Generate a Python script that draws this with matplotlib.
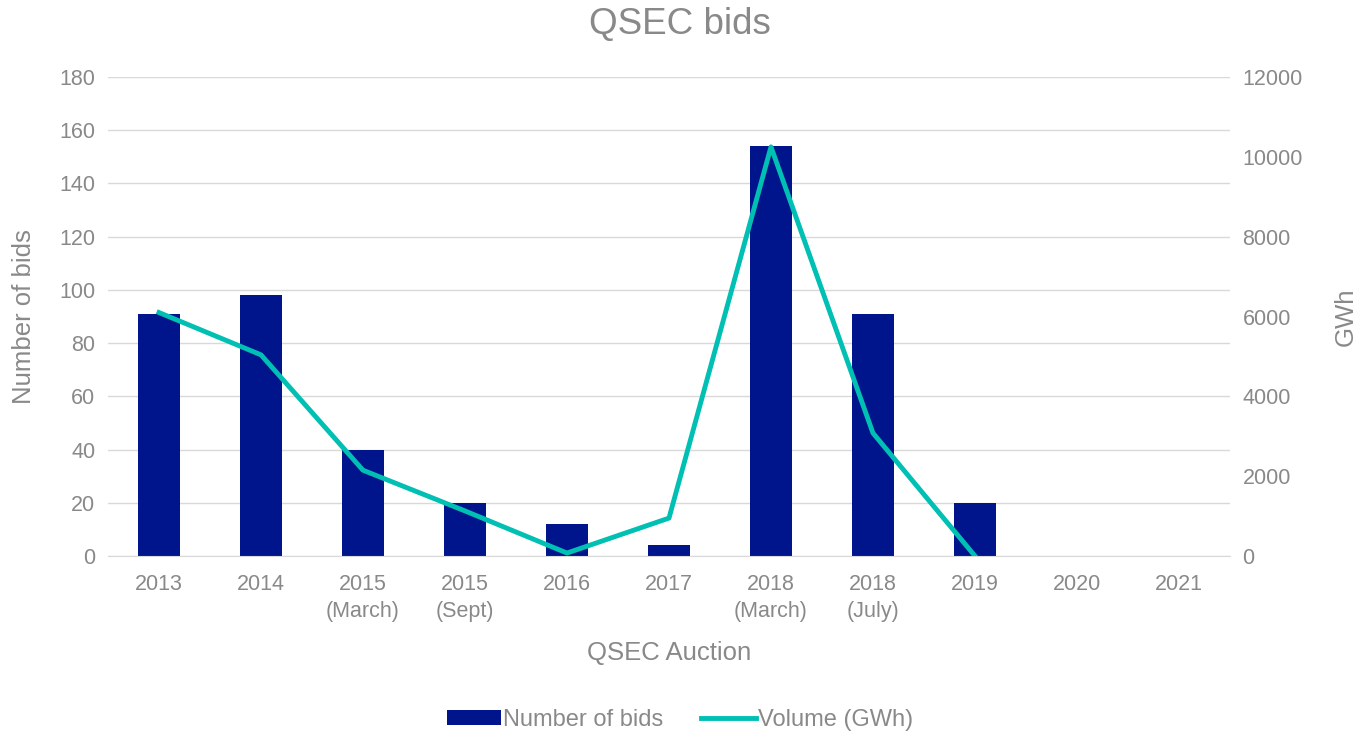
import matplotlib
matplotlib.use("Agg")
import matplotlib.pyplot as plt
import numpy as np

plt.rcParams['font.family'] = ['Liberation Sans', 'DejaVu Sans']

auctions = ["2013", "2014", "2015\n(March)", "2015\n(Sept)", "2016", "2017",
            "2018\n(March)", "2018\n(July)", "2019", "2020", "2021"]
num_bids = [91, 98, 40, 20, 12, 4, 154, 91, 20, 0, 0]
volume_gwh = [6100, 5040, 2150, 1130, 75, 950, 10250, 3080, 0]

grey = "#898989"
navy = "#00148C"
teal = "#00BFB3"

fig = plt.figure(figsize=(13.6, 7.32), dpi=100)
ax = fig.add_axes([0.0794, 0.2404, 0.8250, 0.6544])
ax2 = ax.twinx()

x = np.arange(len(auctions))
ax.bar(x, num_bids, width=0.41, color=navy, label="Number of bids", zorder=2)
ax2.plot(x[:len(volume_gwh)], volume_gwh, color=teal, lw=3.5,
         label="Volume (GWh)", zorder=3)

ax.set_xlim(-0.5, len(auctions) - 0.5)
ax.set_ylim(0, 180)
ax.set_yticks(range(0, 181, 20))
ax2.set_ylim(0, 12000)
ax2.set_yticks(range(0, 12001, 2000))

ax.set_xticks(x)
ax.set_xticklabels(auctions, linespacing=1.4)
ax.yaxis.grid(True, color="#D9D9D9", lw=1)
ax.set_axisbelow(True)

for a in (ax, ax2):
    for s in a.spines.values():
        s.set_visible(False)
    a.tick_params(length=0, labelsize=15.5, labelcolor=grey, pad=9)
ax.tick_params(axis='x', pad=13)
ax.spines['bottom'].set_visible(True)
ax.spines['bottom'].set_color("#D9D9D9")

ax.set_ylabel("Number of bids", fontsize=18.5, color=grey, labelpad=17)
ax2.set_ylabel("GWh", fontsize=18.5, color=grey, labelpad=22)
ax.set_xlabel("QSEC Auction", fontsize=18.5, color=grey, labelpad=13)
fig.suptitle("QSEC bids", fontsize=26.5, color=grey, y=0.99)

h1, l1 = ax.get_legend_handles_labels()
h2, l2 = ax2.get_legend_handles_labels()
fig.legend(h1 + h2, l1 + l2, loc="lower center", ncol=2, frameon=False,
           fontsize=17, labelcolor=grey, bbox_to_anchor=(0.5, -0.028),
           handlelength=2.3, handleheight=0.6, handletextpad=0.1,
           columnspacing=1.6)

fig.savefig("out.png", dpi=100)
